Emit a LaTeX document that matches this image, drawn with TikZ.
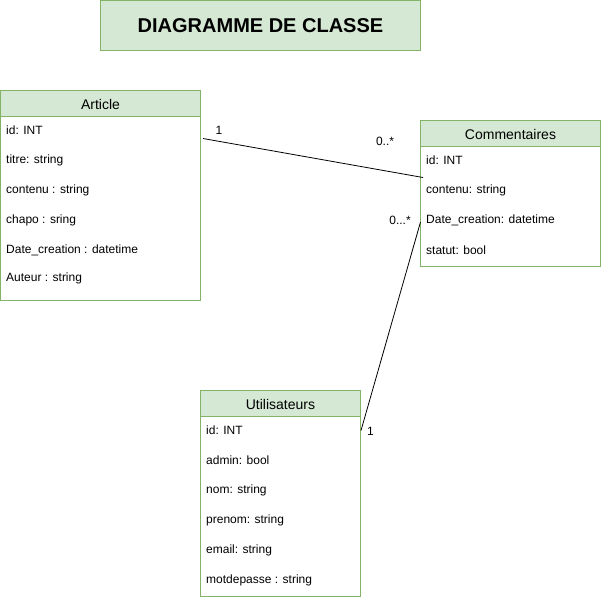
\documentclass[tikz,border=0pt]{standalone}
\usepackage{fontspec}
\setmainfont{Liberation Sans}
\begin{document}
\begin{tikzpicture}[x=1pt,y=-1pt,
  box/.style={draw=boxline, fill=white, line width=0.8pt},
  hdr/.style={draw=boxline, fill=boxfill, line width=0.8pt},
  attr/.style={anchor=west, inner sep=0pt, font=\fontsize{12}{14}\selectfont},
  htext/.style={inner sep=0pt, font=\fontsize{14}{16}\selectfont},
  mult/.style={inner sep=0pt, font=\fontsize{12}{14}\selectfont},
  conn/.style={draw=black, line width=0.8pt}]
\definecolor{boxfill}{HTML}{D5E8D4}
\definecolor{boxline}{HTML}{82B366}
\useasboundingbox (0,0) rectangle (601,600);
% title
\draw[hdr] (100.5,0.5) rectangle (420.5,50.5);
\node[inner sep=0pt, font=\bfseries\fontsize{20}{24}\selectfont] (title) at (260.5,26) {DIAGRAMME DE CLASSE};
% Article
\draw[box] (0.5,90.5) rectangle (200.5,300.5);
\draw[hdr] (0.5,90.5) rectangle (200.5,116.5);
\node[htext] (art) at (100.5,104) {Article};
\node[attr] (a1) at (6,130) {id: INT};
\node[attr] (a2) at (6,160) {titre: string};
\node[attr] (a3) at (6,190) {contenu : string};
\node[attr] (a4) at (6,220) {chapo : sring};
\node[attr] (a5) at (6,250) {Date\_creation : datetime};
\node[attr] (a6) at (6,278) {Auteur : string};
% Commentaires
\draw[box] (420.5,120.5) rectangle (600.5,266.5);
\draw[hdr] (420.5,120.5) rectangle (600.5,146.5);
\node[htext] (com) at (510.5,134) {Commentaires};
\node[attr] (c1) at (426,160) {id: INT};
\node[attr] (c2) at (426,190) {contenu: string};
\node[attr] (c3) at (426,220) {Date\_creation: datetime};
\node[attr] (c4) at (426,250) {statut: bool};
% Utilisateurs
\draw[box] (200.5,390.5) rectangle (360.5,596.5);
\draw[hdr] (200.5,390.5) rectangle (360.5,416.5);
\node[htext] (uti) at (280.5,404) {Utilisateurs};
\node[attr] (u1) at (206,430) {id: INT};
\node[attr] (u2) at (206,460) {admin: bool};
\node[attr] (u3) at (206,490) {nom: string};
\node[attr] (u4) at (206,520) {prenom: string};
\node[attr] (u5) at (206,550) {email: string};
\node[attr] (u6) at (206,580) {motdepasse : string};
% connectors
\coordinate (artR) at (203,138.5);
\coordinate (comL1) at (423,177.5);
\coordinate (comL2) at (420.5,222);
\coordinate (utiR) at (361,430.5);
\draw[conn] (artR) -- (comL1);
\draw[conn] (comL2) -- (utiR);
\node[mult] (m1) at (219,130.5) {1};
\node[mult] (m2) at (385,141) {0..*};
\node[mult] (m3) at (400,220.5) {0...*};
\node[mult] (m4) at (370.5,431) {1};
\end{tikzpicture}
\end{document}
